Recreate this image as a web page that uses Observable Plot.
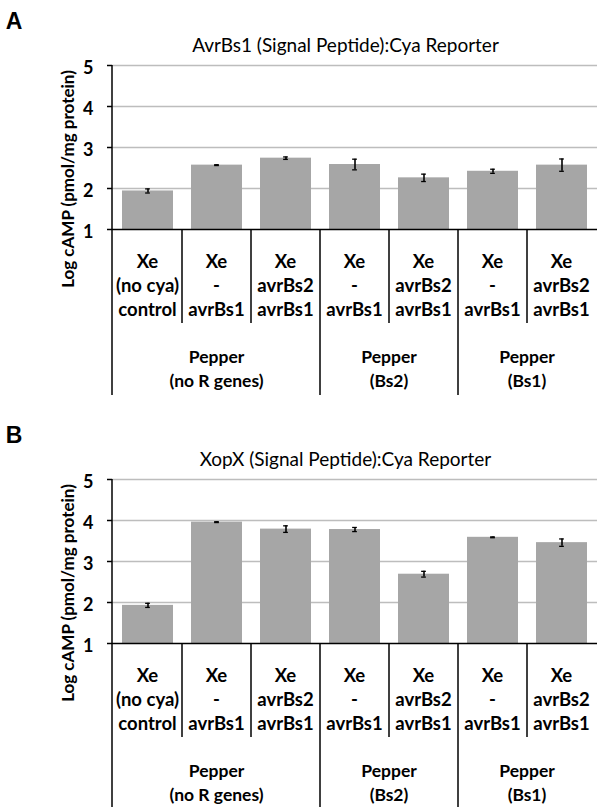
<!DOCTYPE html>
<html><head><meta charset="utf-8">
<script src="https://cdn.jsdelivr.net/npm/d3@7"></script>
<script src="https://cdn.jsdelivr.net/npm/@observablehq/plot@0.6"></script>
<style>
html,body{margin:0;padding:0;background:#fff;overflow:hidden}
#chart svg{display:block;overflow:visible}
</style></head><body><div id="chart"></div>
<script>
// ---- data ----
const categoryKeys = ["noR-control","noR-avrBs1","noR-avrBs2avrBs1","Bs2-avrBs1","Bs2-avrBs2avrBs1","Bs1-avrBs1","Bs1-avrBs2avrBs1"];
const categoryLabels = [
  ["Xe","(no cya)","control"],
  ["Xe","-","avrBs1"],
  ["Xe","avrBs2","avrBs1"],
  ["Xe","-","avrBs1"],
  ["Xe","avrBs2","avrBs1"],
  ["Xe","-","avrBs1"],
  ["Xe","avrBs2","avrBs1"]
];
const groupLabels = [["Pepper","(no R genes)"],["Pepper","(Bs2)"],["Pepper","(Bs1)"]];
const groupOf = [0,0,0,1,1,2,2];
const yTicks = [1,2,3,4,5];
const valuesA = [1.94, 2.57, 2.74, 2.585, 2.26, 2.42, 2.57];
const errorsA = [0.05, 0.01, 0.03, 0.13, 0.09, 0.05, 0.15];
const valuesB = [1.93, 3.96, 3.79, 3.78, 2.69, 3.59, 3.46];
const errorsB = [0.05, 0.01, 0.08, 0.05, 0.07, 0.01, 0.09];
const panelLetters = ["A","B"];
const panelTitles = ["AvrBs1 (Signal Peptide):Cya Reporter","XopX (Signal Peptide):Cya Reporter"];
const yLabel = "Log cAMP (pmol/mg protein)";

// ---- layout ----
const W = 597, H = 414, ML = 112, MT = 65, MB = 185, PAD = 0.26;
const FONT = "Lato, 'Open Sans', sans-serif";
const step = (W - ML) / 7;
const bw = step * (1 - PAD);
const capInset = (bw - 5) / 2;

function chrome(letter, title) {
  return (index, scales, values, dimensions) => {
    const {x, y} = scales;
    const {marginLeft, marginTop, width} = dimensions;
    const y0 = y(1);
    const st = x(categoryKeys[1]) - x(categoryKeys[0]);
    const b = typeof x.bandwidth === "function" ? x.bandwidth() : st * (1 - PAD);
    const edge = i => x(categoryKeys[i]) - (st - b) / 2;
    const mid = i => x(categoryKeys[i]) + b / 2;
    const g = d3.create("svg:g").attr("fill", "black");
    // panel letter
    g.append("text").attr("x", 14).attr("y", 29)
      .attr("font-family", "'Liberation Sans', Arial, sans-serif").attr("font-weight", "bold")
      .attr("font-size", 23).text(letter);
    // title
    g.append("text").attr("x", (marginLeft + width) / 2 - 9).attr("y", marginTop - 13)
      .attr("text-anchor", "middle").attr("font-family", FONT).attr("font-size", 19).text(title);
    // y label
    g.append("text").attr("transform", `translate(${marginLeft - 38},${y0 - 50}) rotate(-90)`)
      .attr("text-anchor", "middle").attr("font-family", FONT).attr("font-weight", "bold")
      .attr("font-size", 17).text(yLabel);
    // axis line (continues down as table left border)
    g.append("line").attr("x1", marginLeft).attr("x2", marginLeft)
      .attr("y1", marginTop).attr("y2", y0 + 166).attr("stroke", "black").attr("stroke-width", 1.5);
    // table lines
    for (let i = 1; i < categoryKeys.length; i++) {
      const groupBoundary = groupOf[i] !== groupOf[i - 1];
      g.append("line").attr("x1", edge(i)).attr("x2", edge(i))
        .attr("y1", y0).attr("y2", y0 + (groupBoundary ? 166 : 94))
        .attr("stroke", "black").attr("stroke-width", 1.5);
    }
    // category labels
    categoryLabels.forEach((lines, i) => {
      lines.forEach((t, j) => {
        g.append("text").attr("x", mid(i)).attr("y", y0 + 39 + j * 24)
          .attr("text-anchor", "middle").attr("font-family", FONT).attr("font-weight", "bold")
          .attr("font-size", 18.5).text(t);
      });
    });
    // group labels
    groupLabels.forEach((lines, gi) => {
      const members = groupOf.map((v, i) => v === gi ? i : -1).filter(i => i >= 0);
      const cx = (edge(members[0]) + edge(members[members.length - 1]) + st) / 2;
      lines.forEach((t, j) => {
        g.append("text").attr("x", cx).attr("y", y0 + 134 + j * 24)
          .attr("text-anchor", "middle").attr("font-family", FONT).attr("font-weight", "bold")
          .attr("font-size", 17.5).text(t);
      });
    });
    return g.node();
  };
}

function panel(k) {
  const vals = k === 0 ? valuesA : valuesB;
  const errs = k === 0 ? errorsA : errorsB;
  const data = categoryKeys.map((key, i) => ({key, value: vals[i], err: errs[i]}));
  return Plot.plot({
    width: W, height: H,
    marginLeft: ML, marginRight: 0, marginTop: MT, marginBottom: MB,
    style: {background: "white", overflow: "visible"},
    x: {domain: categoryKeys, paddingInner: PAD, paddingOuter: PAD / 2, axis: null},
    y: {domain: [1, 5], axis: null, label: null},
    marks: [
      Plot.gridY(yTicks.slice(1), {stroke: "#bdbdbd", strokeOpacity: 1, strokeWidth: 1.3}),
      Plot.barY(data, {x: "key", y1: 1, y2: "value", fill: "#a6a6a6"}),
      Plot.ruleX(data, {x: "key", y1: d => d.value - d.err, y2: d => d.value + d.err, stroke: "black", strokeWidth: 1.6}),
      Plot.tickY(data, {x: "key", y: d => d.value + d.err, inset: capInset, stroke: "black", strokeWidth: 1.3}),
      Plot.tickY(data, {x: "key", y: d => d.value - d.err, inset: capInset, stroke: "black", strokeWidth: 1.3}),
      Plot.ruleY([1], {stroke: "black", strokeWidth: 1.5}),
      Plot.axisY(yTicks, {anchor: "left", tickSize: 5, tickFormat: () => "", label: null, strokeWidth: 1.5}),
      Plot.axisY(yTicks, {anchor: "left", tickSize: 0, tickPadding: 19, dy: 3, label: null,
        fontSize: 18, fontWeight: "bold", fontFamily: FONT, fill: "black"}),
      chrome(panelLetters[k], panelTitles[k])
    ]
  });
}

const root = document.getElementById("chart");
root.appendChild(panel(0));
root.appendChild(panel(1));
</script>
</body></html>
